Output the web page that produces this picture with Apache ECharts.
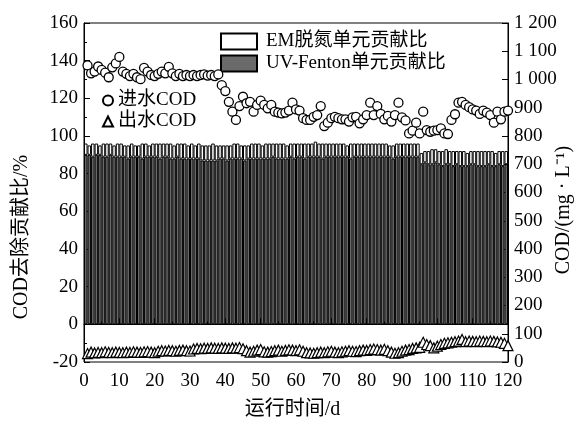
<!DOCTYPE html>
<html><head><meta charset="utf-8">
<script src="https://cdn.jsdelivr.net/npm/echarts@6/dist/echarts.min.js"></script>
<style>html,body{margin:0;padding:0;background:#fff}#c{width:585px;height:421px}</style>
</head><body><div id="c"></div>
<script>
// Days 1..120
const days = Array.from({length:120}, (_, i) => i + 1);

// UV-Fenton unit contribution (%), per day
const uvFenton = [
 90,90,89,90,90,89,89,90,89,89,
 89,89,88,89,89,89,88,89,89,89,
 89,88,89,89,88,88,89,88,88,88,
 88,88,88,87,87,87,87,87,88,88,
 87,88,88,88,88,87,88,88,88,88,
 88,88,88,89,88,88,88,88,89,88,
 89,89,88,89,89,89,89,88,89,89,
 89,89,89,89,89,88,89,89,89,89,
 89,89,89,89,89,89,89,88,89,89,
 89,89,89,89,89,85,86,85,85,86,
 85,84,85,85,84,85,84,84,84,85,
 85,84,84,84,85,84,84,85,84,85
];
// EM denitrification unit contribution (%), stacked on top
const emPart = [
 6,5,7,6,5,7,7,6,6,7,
 7,6,7,7,6,6,8,7,6,7,
 7,8,7,7,8,7,7,8,8,7,
 8,7,8,8,8,8,9,8,7,7,
 8,7,8,8,7,8,7,8,8,8,
 7,8,8,7,8,8,8,7,7,8,
 7,7,8,7,7,8,7,8,7,7,
 7,7,7,7,6,8,7,7,7,7,
 7,7,7,7,7,7,6,7,7,7,
 7,7,7,7,7,6,6,7,8,7,
 7,8,8,7,8,7,8,8,7,7,
 7,8,8,8,7,8,7,7,8,7
];
// Influent COD (mg/L)
const influentCOD = [
 1050,1022,1028,1046,1034,1024,1008,1043,1057,1080,
 1028,1020,1012,1020,1008,1001,1041,1028,1016,1012,
 1020,1028,1022,1045,1022,1012,1020,1012,1016,1012,
 1016,1012,1016,1018,1014,1016,1012,1018,980,959,
 921,886,857,906,939,916,921,886,910,925,
 910,898,910,886,883,880,883,890,918,894,
 890,863,857,857,868,874,906,835,847,863,
 868,863,859,859,851,866,868,845,859,874,
 918,874,906,878,859,871,851,874,918,866,
 855,809,819,847,809,886,821,815,819,821,
 827,809,807,857,877,918,921,910,902,894,
 890,878,890,883,874,847,886,859,886,890
];
// Effluent COD (mg/L)
const effluentCOD = [
 30,35,32,34,33,36,34,33,35,34,
 33,35,34,36,35,34,36,37,35,33,
 38,40,39,41,40,38,41,42,40,39,
 46,48,47,49,48,50,49,48,50,49,
 48,50,49,51,47,40,35,38,42,44,
 36,35,37,40,42,38,41,43,42,40,
 43,38,33,32,31,33,35,33,36,38,
 35,33,36,38,40,38,37,40,42,41,
 44,46,44,42,45,40,35,31,33,38,
 42,44,48,50,52,70,62,58,50,56,
 62,66,68,70,72,74,80,72,74,73,
 72,74,73,72,74,73,71,70,66,58
];

const FONT = "'Liberation Serif','Noto Sans CJK SC',serif";
const chart = echarts.init(document.getElementById('c'), null, {renderer:'canvas'});
const black = {color:'#000', width:1};
const lbl = {color:'#000', fontSize:19, fontFamily:FONT};

const option = {
  animation:false,
  backgroundColor:'#fff',
  grid:{left:84, right:77, top:23, bottom:59, show:true, borderColor:'#000', borderWidth:1, backgroundColor:'transparent'},
  legend:[
    {orient:'vertical', left:215, top:27, itemWidth:36, itemHeight:16, itemGap:3, icon:'rect',
     textStyle:{color:'#000', fontSize:19, fontFamily:FONT, padding:[0,0,0,4]},
     data:['EM脱氮单元贡献比','UV-Fenton单元贡献比']},
    {orient:'vertical', left:97, top:86, itemWidth:10, itemHeight:10, itemGap:2,
     textStyle:{color:'#000', fontSize:19, fontFamily:FONT},
     data:[{name:'进水COD', icon:'circle'},{name:'出水COD', icon:'triangle'}]}
  ],
  xAxis:[
    {type:'value', min:0, max:120, interval:10, position:'bottom',
     axisLine:{show:true, lineStyle:black},
     axisTick:{show:true, inside:true, length:6, lineStyle:black},
     minorTick:{show:true, splitNumber:2, length:3, lineStyle:black},
     splitLine:{show:false}, minorSplitLine:{show:false},
     axisLabel:Object.assign({margin:10}, lbl)},
    {type:'category', data:days, show:false, boundaryGap:true, gridIndex:0}
  ],
  yAxis:[
    {type:'value', min:-20, max:160, interval:20, position:'left',
     axisLine:{show:true, lineStyle:black},
     axisTick:{show:true, inside:true, length:6, lineStyle:black},
     minorTick:{show:true, splitNumber:2, length:3, lineStyle:black},
     splitLine:{show:false}, minorSplitLine:{show:false},
     axisLabel:Object.assign({margin:6}, lbl)},
    {type:'value', min:0, max:1200, interval:100, position:'right',
     axisLine:{show:true, lineStyle:black},
     axisTick:{show:true, inside:true, length:6, lineStyle:black},
     splitLine:{show:false},
     axisLabel:Object.assign({margin:6, formatter:v => v >= 1000 ? '1 ' + String(v).slice(1) : String(v)}, lbl)}
  ],
  graphic:[
    {type:'text', left:'center', x:0, top:400, style:{text:'运行时间/d', fill:'#000', font:"20px " + FONT}},
    {type:'text', x:22, y:237, rotation:Math.PI/2, style:{text:'COD去除贡献比/%', fill:'#000', font:"20px " + FONT, align:'center', verticalAlign:'middle'}},
    {type:'text', x:564, y:210, rotation:Math.PI/2, style:{text:'COD/(mg · L⁻¹)', fill:'#000', font:"20px " + FONT, align:'center', verticalAlign:'middle'}}
  ],
  series:[
    {type:'bar', name:'UV-Fenton单元贡献比', stack:'a', xAxisIndex:1, yAxisIndex:0, data:uvFenton,
     barWidth:'100%', itemStyle:{color:'#6a6a6a', borderColor:'#000', borderWidth:1}},
    {type:'bar', name:'EM脱氮单元贡献比', stack:'a', xAxisIndex:1, yAxisIndex:0, data:emPart,
     barWidth:'100%', itemStyle:{color:'#fff', borderColor:'#000', borderWidth:1}},
    {type:'scatter', name:'进水COD', xAxisIndex:0, yAxisIndex:1, symbol:'circle', symbolSize:9,
     data:days.map((d,i)=>[d, influentCOD[i]]),
     itemStyle:{color:'#fff', borderColor:'#000', borderWidth:1.3, opacity:1}, z:5},
    {type:'scatter', name:'出水COD', xAxisIndex:0, yAxisIndex:1, symbol:'triangle', symbolSize:10,
     data:days.map((d,i)=>[d, effluentCOD[i]]),
     itemStyle:{color:'#fff', borderColor:'#000', borderWidth:1.2, opacity:1}, z:5}
  ]
};
chart.setOption(option);
</script></body></html>
